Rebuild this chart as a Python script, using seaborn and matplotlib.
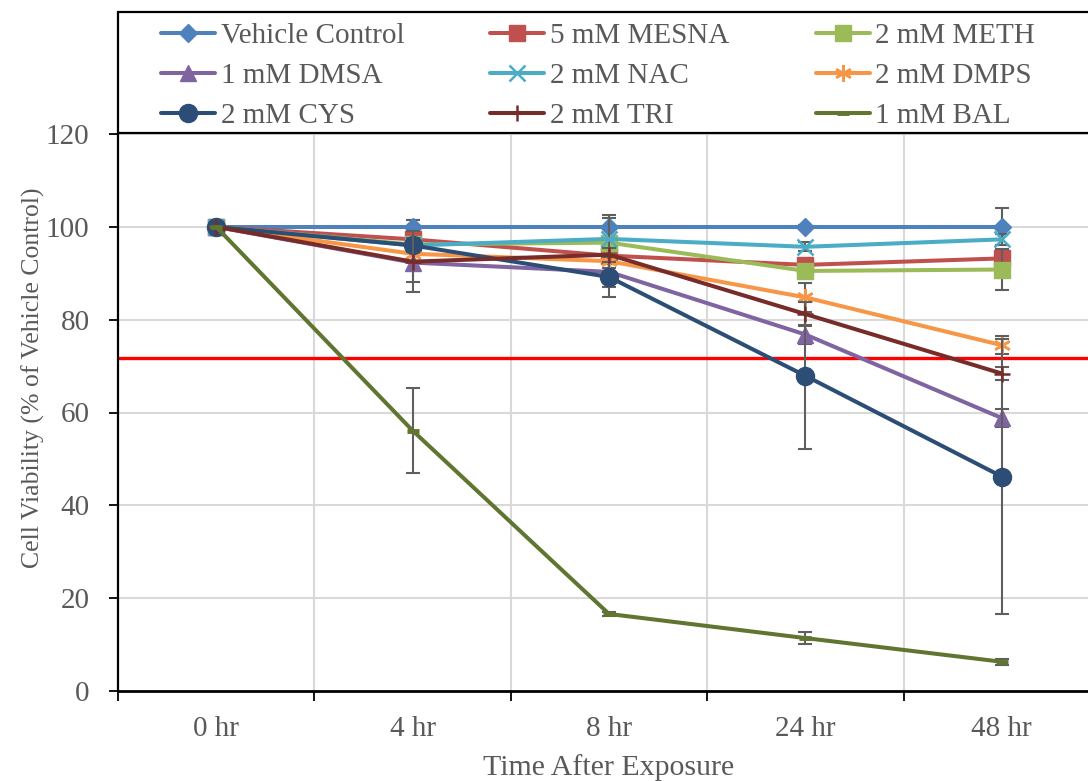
import matplotlib
matplotlib.use("Agg")
import matplotlib.pyplot as plt
import numpy as np
import pandas as pd
import seaborn as sns
from matplotlib.patches import Rectangle

# ---- data -------------------------------------------------------------
time_labels = ["0 hr", "4 hr", "8 hr", "24 hr", "48 hr"]

series_names = ["Vehicle Control", "5 mM MESNA", "2 mM METH",
                "1 mM DMSA", "2 mM NAC", "2 mM DMPS",
                "2 mM CYS", "2 mM TRI", "1 mM BAL"]

vehicle = [100.0, 100.0, 100.0, 100.0, 100.0]
mesna = [100.0, 97.3, 93.8, 91.8, 93.2]
meth = [100.0, 96.2, 96.6, 90.5, 90.8]
dmsa = [100.0, 92.3, 90.3, 76.8, 58.8]
nac = [100.0, 96.0, 97.4, 95.7, 97.3]
dmps = [100.0, 94.2, 92.6, 84.8, 74.5]
cys = [100.0, 96.0, 89.2, 67.9, 46.2]
tri = [100.0, 92.5, 94.0, 81.2, 68.4]
bal = [100.0, 56.1, 16.6, 11.4, 6.3]

vehicle_err = [0.0, 1.5, 2.5, 0.5, 4.0]
mesna_err = [0.0, 1.2, 1.5, 1.2, 1.5]
meth_err = [0.0, 1.2, 1.5, 1.5, 4.4]
dmsa_err = [0.0, 4.1, 3.3, 2.0, 1.9]
nac_err = [0.0, 1.2, 4.6, 1.0, 1.2]
dmps_err = [0.0, 1.5, 1.5, 3.1, 1.9]
cys_err = [0.0, 1.5, 4.3, 15.8, 29.7]
tri_err = [0.0, 6.5, 1.5, 2.5, 1.5]
bal_err = [0.0, 9.2, 0.5, 1.25, 0.6]

threshold = 71.8

values = [vehicle, mesna, meth, dmsa, nac, dmps, cys, tri, bal]
errors = [vehicle_err, mesna_err, meth_err, dmsa_err, nac_err,
          dmps_err, cys_err, tri_err, bal_err]

# ---- styling ----------------------------------------------------------
colors = ["#4F81BD", "#C0504D", "#9BBB59", "#8064A2", "#4BACC6",
          "#F79646", "#2C4D75", "#772C2A", "#5F7530"]
markers = ["D", "s", "s", "^", "x", (6, 2, 0), "o", "+", "_"]
msizes = [9, 11.5, 11.5, 11.5, 11.5, 12, 13, 11, 9]
medges = [1.0, 1.0, 1.0, 1.0, 1.8, 1.8, 1.0, 1.8, 3.5]

text_gray = "#595959"
serif = ["Liberation Serif", "DejaVu Serif"]

sns.set_theme(style="white")
plt.rcParams["font.family"] = serif
plt.rcParams["text.color"] = text_gray
plt.rcParams["axes.labelcolor"] = text_gray
plt.rcParams["xtick.color"] = "black"
plt.rcParams["ytick.color"] = "black"

records = []
for name, vals in zip(series_names, values):
    for pos, (lab, v) in enumerate(zip(time_labels, vals)):
        records.append({"series": name, "time": lab, "pos": pos, "value": v})
df = pd.DataFrame(records)

W, H = 1088, 781
fig = plt.figure(figsize=(W / 100, H / 100), dpi=100)
ax = fig.add_axes([118 / W, 1 - 691 / H, (1100 - 118) / W, (691 - 134) / H])

ax.set_xlim(-0.5, 4.5)
ax.set_ylim(0, 120)

# gridlines
for y in range(20, 121, 20):
    ax.axhline(y, color="#D9D9D9", lw=1.5, zorder=0)
for x in np.arange(0.5, 4.0, 1.0):
    ax.axvline(x, color="#D9D9D9", lw=1.5, zorder=0)

# threshold line
ax.axhline(threshold, color="#FF0000", lw=2.4, zorder=1)

# series with error bars
for i, name in enumerate(series_names):
    sub = df[df["series"] == name]
    ax.errorbar(sub["pos"], sub["value"], yerr=errors[i], fmt="none",
                ecolor="#5F5F5F", elinewidth=1.5, capsize=5, capthick=1.5,
                zorder=2 + i * 0.1)
    sns.lineplot(data=sub, x="pos", y="value", ax=ax, color=colors[i],
                 marker=markers[i], markersize=msizes[i],
                 markeredgewidth=medges[i], markeredgecolor=colors[i],
                 markerfacecolor=colors[i], lw=2.9, label=name,
                 zorder=2.05 + i * 0.1, legend=False)

# axes styling
for side in ["top", "right"]:
    ax.spines[side].set_visible(False)
ax.spines["left"].set_color("black")
ax.spines["left"].set_linewidth(1.6)
ax.spines["bottom"].set_color("black")
ax.spines["bottom"].set_linewidth(2.0)

ax.set_yticks(range(0, 121, 20))
ax.tick_params(axis="y", direction="out", length=6.5, width=1.3,
               pad=14, labelsize=21, labelcolor=text_gray, left=True)

ax.set_xticks(np.arange(-0.5, 4.6, 1.0))
ax.set_xticklabels([])
ax.tick_params(axis="x", which="major", direction="out", length=7,
               width=1.3, bottom=True)
ax.set_xticks(range(len(time_labels)), minor=True)
ax.set_xticklabels(time_labels, minor=True)
ax.tick_params(axis="x", which="minor", length=0, pad=18,
               labelsize=21, labelcolor=text_gray)

ax.set_xlabel("Time After Exposure", fontsize=21.5, color=text_gray,
              labelpad=9)
ax.set_ylabel("Cell Viability (% of Vehicle Control)", fontsize=18.5,
              color=text_gray)
# rotated label: the anchor is the baseline side, i.e. its right edge
ax.yaxis.set_label_coords((45 - 118) / 982, (691 - 378) / 557)

# legend box above the plot
fig.patches.append(Rectangle((118 / W, 1 - 133 / H), (1100 - 118) / W,
                             (133 - 12) / H, transform=fig.transFigure,
                             fill=False, edgecolor="black", lw=1.6,
                             zorder=5))
handles, labels = ax.get_legend_handles_labels()
order = [0, 3, 6, 1, 4, 7, 2, 5, 8]
leg = fig.legend([handles[k] for k in order], [labels[k] for k in order],
                 ncol=3, loc="upper left",
                 bbox_to_anchor=(161 / W, 1 - 23 / H),
                 frameon=False, fontsize=21, handlelength=1.85,
                 handletextpad=0.2, columnspacing=2.95, labelspacing=0.46,
                 borderpad=0.0, borderaxespad=0.0)
for t in leg.get_texts():
    t.set_color(text_gray)

fig.savefig("out.png", dpi=100)
